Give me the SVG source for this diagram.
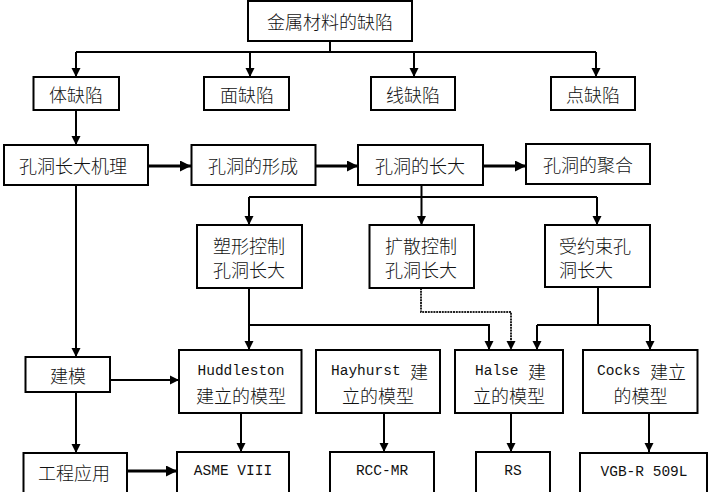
<svg xmlns="http://www.w3.org/2000/svg" width="727" height="492" viewBox="0 0 727 492">
<style>
.box{fill:#fff;stroke:#000;stroke-width:2}
.t{font-family:"Noto Sans CJK SC","Liberation Sans",sans-serif;font-size:18px;font-weight:300;fill:#111;dominant-baseline:central}
.c{text-anchor:middle}
.m{font-family:"Liberation Mono","Noto Sans CJK SC",monospace;font-size:14.5px;font-weight:400}
.ln{fill:none;stroke:#000;stroke-width:2}
.thick{fill:none;stroke:#000;stroke-width:3}
.dot{fill:none;stroke:#222;stroke-width:2;stroke-dasharray:2 0.8}
</style>
<defs>
<marker id="arr" viewBox="0 0 10 10" refX="10" refY="5" markerWidth="9" markerHeight="10" markerUnits="userSpaceOnUse" orient="auto"><path d="M0,0 L10,5 L0,10 z" fill="#000"/></marker>
<marker id="arrT" viewBox="0 0 10 10" refX="10" refY="5" markerWidth="12" markerHeight="11" markerUnits="userSpaceOnUse" orient="auto"><path d="M0,0 L10,5 L0,10 z" fill="#000"/></marker>
</defs>
<rect width="727" height="492" fill="#fff"/>
<g id="connectors">
<path class="ln" d="M330,41 V52 M76,52 H596"/>
<path class="ln" d="M76,52 V77" marker-end="url(#arr)"/>
<path class="ln" d="M250,52 V77" marker-end="url(#arr)"/>
<path class="ln" d="M414,52 V77" marker-end="url(#arr)"/>
<path class="ln" d="M596,52 V77" marker-end="url(#arr)"/>
<path class="ln" d="M76,110 V145" marker-end="url(#arr)"/>
<path class="thick" d="M148,166 H191" marker-end="url(#arrT)"/>
<path class="thick" d="M315.5,166 H358" marker-end="url(#arrT)"/>
<path class="thick" d="M483,166 H526" marker-end="url(#arrT)"/>
<path class="ln" d="M421.5,185 V225" marker-end="url(#arr)"/>
<path class="ln" d="M249,197 H597"/>
<path class="ln" d="M249,197 V225" marker-end="url(#arr)"/>
<path class="ln" d="M597,197 V225" marker-end="url(#arr)"/>
<path class="ln" d="M249,288 V350" marker-end="url(#arr)"/>
<path class="ln" d="M249,325 H489 V350" marker-end="url(#arr)"/>
<path class="dot" d="M421,288 V312 H511 V350" marker-end="url(#arr)"/>
<path class="ln" d="M598,288 V325 M537,325 H650"/>
<path class="ln" d="M537,325 V350" marker-end="url(#arr)"/>
<path class="ln" d="M650,325 V350" marker-end="url(#arr)"/>
<path class="ln" d="M76,185 V357" marker-end="url(#arr)"/>
<path class="ln" d="M110,380 H179" marker-end="url(#arr)"/>
<path class="ln" d="M76,392 V453" marker-end="url(#arr)"/>
<path class="ln" d="M241,413 V452" marker-end="url(#arr)"/>
<path class="ln" d="M384,413 V452" marker-end="url(#arr)"/>
<path class="ln" d="M511,413 V452" marker-end="url(#arr)"/>
<path class="ln" d="M649,413 V452" marker-end="url(#arr)"/>
<path class="thick" d="M127,471 H177" marker-end="url(#arrT)"/>
</g>
<g id="n-root"><rect class="box" x="248" y="1" width="164" height="40"/><text class="t c" x="330" y="21">金属材料的缺陷</text></g>
<g id="n-ti"><rect class="box" x="33.5" y="77" width="85.5" height="33"/><text class="t c" x="76" y="94">体缺陷</text></g>
<g id="n-mian"><rect class="box" x="204" y="77" width="85" height="33"/><text class="t c" x="247" y="94">面缺陷</text></g>
<g id="n-xian"><rect class="box" x="371" y="77" width="84" height="33"/><text class="t c" x="413" y="94">线缺陷</text></g>
<g id="n-dian"><rect class="box" x="551" y="77" width="84" height="33"/><text class="t c" x="593" y="94">点缺陷</text></g>
<g id="n-jili"><rect class="box" x="4" y="145" width="144" height="40"/><text class="t c" x="73" y="165">孔洞长大机理</text></g>
<g id="n-xingcheng"><rect class="box" x="191.5" y="145" width="124" height="40"/><text class="t c" x="253" y="165">孔洞的形成</text></g>
<g id="n-zhangda"><rect class="box" x="358" y="145" width="125" height="40"/><text class="t c" x="420" y="165">孔洞的长大</text></g>
<g id="n-juhe"><rect class="box" x="526" y="144" width="124" height="40"/><text class="t c" x="588" y="164">孔洞的聚合</text></g>
<g id="n-suxing"><rect class="box" x="197" y="225" width="105" height="63"/><text class="t c" x="249" y="245">塑形控制</text><text class="t c" x="249" y="269">孔洞长大</text></g>
<g id="n-kuosan"><rect class="box" x="369.5" y="225" width="104.5" height="63"/><text class="t c" x="421" y="245">扩散控制</text><text class="t c" x="421" y="269">孔洞长大</text></g>
<g id="n-yueshu"><rect class="box" x="545" y="225" width="105" height="62"/><text class="t" x="559" y="245">受约束孔</text><text class="t" x="559" y="269">洞长大</text></g>
<g id="n-jianmo"><rect class="box" x="25.5" y="357" width="84.5" height="35"/><text class="t c" x="68" y="375">建模</text></g>
<g id="n-hudd"><rect class="box" x="179" y="350" width="122.5" height="63"/><text class="t m c" x="241" y="371">Huddleston</text><text class="t c" x="241" y="395">建立的模型</text></g>
<g id="n-hay"><rect class="box" x="316" y="350" width="124" height="63"/><text class="t" x="331" y="371"><tspan class="m">Hayhurst </tspan><tspan x="410">建</tspan></text><text class="t c" x="378" y="395">立的模型</text></g>
<g id="n-halse"><rect class="box" x="455" y="350" width="108" height="63"/><text class="t" x="475" y="371"><tspan class="m">Halse </tspan><tspan x="528">建</tspan></text><text class="t c" x="509" y="395">立的模型</text></g>
<g id="n-cocks"><rect class="box" x="583" y="350" width="114.5" height="63"/><text class="t" x="597" y="371"><tspan class="m">Cocks </tspan><tspan x="650">建立</tspan></text><text class="t c" x="640.5" y="395">的模型</text></g>
<g id="n-gongcheng"><rect class="box" x="23.5" y="453" width="103.5" height="50"/><text class="t c" x="74" y="472">工程应用</text></g>
<g id="n-asme"><rect class="box" x="177" y="452" width="112" height="50"/><text class="t m c" x="233" y="471">ASME VIII</text></g>
<g id="n-rcc"><rect class="box" x="330" y="452" width="104" height="50"/><text class="t m c" x="382" y="471">RCC-MR</text></g>
<g id="n-rs"><rect class="box" x="476" y="452" width="74" height="50"/><text class="t m c" x="513" y="471">RS</text></g>
<g id="n-vgb"><rect class="box" x="580" y="453" width="127" height="50"/><text class="t m c" x="644" y="472">VGB-R 509L</text></g>
</svg>
